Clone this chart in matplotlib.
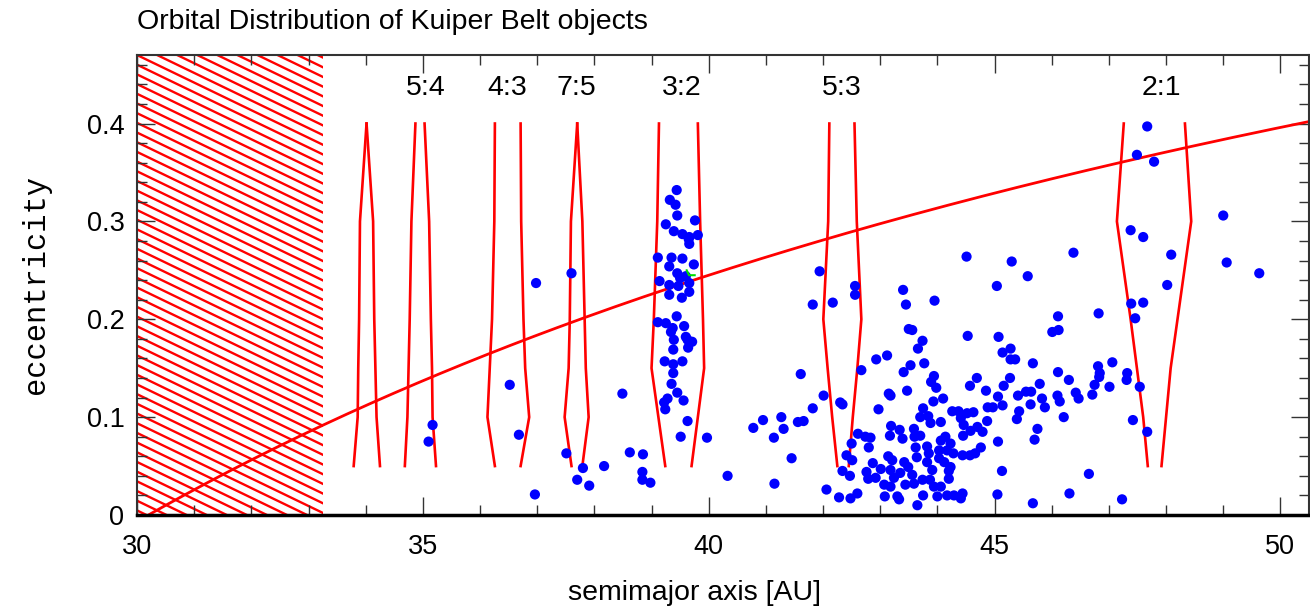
import numpy as np
import matplotlib.pyplot as plt
from matplotlib.patches import Rectangle
from matplotlib.ticker import MultipleLocator

# --- observed objects: semimajor axis [AU], eccentricity ---
a_inner = [35.17, 35.10, 36.98, 36.52, 36.68, 37.60, 37.51, 37.80, 37.70, 37.91,
           38.17, 36.96, 38.49, 38.62, 38.85, 38.84, 38.84, 38.98, 40.33, 40.78,
           40.95, 41.27, 41.31, 41.14, 41.56, 41.66, 41.45, 41.15, 41.61]
e_inner = [0.092, 0.075, 0.237, 0.133, 0.082, 0.247, 0.063, 0.048, 0.036, 0.030,
           0.050, 0.021, 0.124, 0.064, 0.062, 0.044, 0.036, 0.033, 0.040, 0.089,
           0.097, 0.100, 0.088, 0.079, 0.095, 0.096, 0.058, 0.032, 0.144]

# objects in the 3:2 resonance
a_plutinos = [39.44, 39.32, 39.42, 39.45, 39.76, 39.25, 39.39, 39.54, 39.66, 39.81,
              39.66, 39.11, 39.35, 39.54, 39.31, 39.74, 39.45, 39.60, 39.14, 39.31,
              39.47, 39.66, 39.31, 39.53, 39.66, 39.44, 39.11, 39.25, 39.37, 39.57,
              39.34, 39.60, 39.39, 39.63, 39.71, 39.38, 39.64, 39.23, 39.38, 39.54,
              39.38, 39.35, 39.45, 39.28, 39.56, 39.22, 39.24, 39.63, 39.51, 39.97,
              39.50, 39.65]
e_plutinos = [0.332, 0.322, 0.317, 0.306, 0.301, 0.297, 0.290, 0.287, 0.284, 0.286,
              0.277, 0.263, 0.263, 0.262, 0.254, 0.256, 0.247, 0.244, 0.239, 0.235,
              0.234, 0.237, 0.225, 0.222, 0.228, 0.203, 0.197, 0.196, 0.191, 0.193,
              0.187, 0.182, 0.179, 0.179, 0.177, 0.169, 0.171, 0.157, 0.154, 0.157,
              0.145, 0.134, 0.125, 0.119, 0.117, 0.115, 0.108, 0.096, 0.080, 0.079,
              0.242, 0.282]

# classical belt
a_classical = [44.51, 45.30, 45.58, 41.94, 45.04, 42.56, 42.56, 43.40, 43.45, 41.82,
               42.17, 43.95, 43.50, 43.56, 43.74, 43.66, 44.53, 45.07, 45.14, 45.28,
               45.28, 45.36, 45.67, 42.93, 43.12, 42.67, 43.53, 43.41, 43.77, 43.94,
               43.89, 43.98, 44.69, 44.57, 44.85, 45.27, 45.16, 43.47, 43.15, 43.18,
               42.01, 42.30, 42.34, 41.82, 42.97, 44.10, 43.93, 43.75, 43.70, 43.84,
               43.88, 44.06, 44.26, 44.37, 44.52, 44.63, 44.41, 44.46, 44.58, 44.70,
               44.79, 44.87, 44.88, 44.97, 45.06, 45.14, 45.41, 45.55, 45.64, 45.63,
               45.43, 45.39, 45.79, 45.75, 45.70, 45.06, 45.13, 45.05, 45.67, 42.61,
               42.74, 42.83, 42.80, 42.50, 42.41, 42.51, 42.34, 42.47, 42.06, 42.28,
               42.48, 42.60, 42.87, 42.76, 42.79, 42.92, 43.01, 43.14, 43.21, 43.18,
               43.07, 43.18, 43.08, 43.30, 43.33, 43.24, 43.35, 43.42, 43.49, 43.44,
               43.56, 43.19, 43.34, 43.39, 43.17, 43.59, 43.60, 43.70, 43.62, 43.64,
               43.82, 43.85, 44.03, 44.06, 44.14, 44.23, 44.17, 44.28, 44.44, 44.57,
               44.66, 44.76, 44.03, 44.12, 44.23, 44.20, 44.20, 43.82, 43.91, 43.87,
               43.74, 43.94, 44.06, 44.00, 44.17, 44.29, 44.44, 44.41, 43.75, 43.65,
               43.59, 44.45]
e_classical = [0.264, 0.259, 0.244, 0.249, 0.234, 0.234, 0.225, 0.230, 0.215, 0.215,
               0.217, 0.219, 0.190, 0.189, 0.178, 0.170, 0.183, 0.182, 0.166, 0.170,
               0.159, 0.159, 0.155, 0.159, 0.163, 0.148, 0.153, 0.146, 0.155, 0.142,
               0.136, 0.130, 0.140, 0.132, 0.127, 0.140, 0.132, 0.127, 0.124, 0.122,
               0.122, 0.115, 0.113, 0.109, 0.108, 0.119, 0.116, 0.109, 0.100, 0.101,
               0.094, 0.095, 0.106, 0.106, 0.104, 0.105, 0.099, 0.092, 0.086, 0.090,
               0.085, 0.096, 0.110, 0.110, 0.121, 0.112, 0.122, 0.126, 0.126, 0.113,
               0.106, 0.098, 0.134, 0.088, 0.077, 0.075, 0.045, 0.021, 0.012, 0.083,
               0.080, 0.079, 0.069, 0.073, 0.061, 0.056, 0.045, 0.040, 0.026, 0.018,
               0.017, 0.022, 0.053, 0.044, 0.037, 0.038, 0.047, 0.060, 0.056, 0.046,
               0.031, 0.029, 0.019, 0.019, 0.016, 0.038, 0.043, 0.054, 0.049, 0.031,
               0.041, 0.091, 0.087, 0.078, 0.081, 0.088, 0.080, 0.081, 0.069, 0.059,
               0.070, 0.063, 0.066, 0.076, 0.080, 0.073, 0.066, 0.063, 0.061, 0.061,
               0.063, 0.069, 0.058, 0.054, 0.049, 0.045, 0.037, 0.054, 0.046, 0.036,
               0.036, 0.029, 0.029, 0.019, 0.020, 0.020, 0.022, 0.017, 0.020, 0.010,
               0.032, 0.081]

# outer belt and the 2:1 region
a_outer = [46.38, 48.09, 49.06, 49.63, 48.02, 47.39, 47.60, 47.46, 46.82, 46.11,
           46.01, 46.12, 47.06, 46.81, 46.84, 46.83, 46.75, 47.01, 47.32, 47.31,
           47.54, 46.11, 46.30, 46.42, 46.47, 46.71, 46.10, 46.14, 45.83, 45.88,
           46.21, 46.65, 46.31, 47.23, 47.42, 47.67, 47.67, 47.49, 47.79, 47.38,
           47.60, 49.00]
e_outer = [0.268, 0.266, 0.258, 0.247, 0.235, 0.216, 0.217, 0.201, 0.206, 0.203,
           0.187, 0.189, 0.156, 0.152, 0.145, 0.141, 0.133, 0.131, 0.145, 0.138,
           0.131, 0.146, 0.138, 0.125, 0.119, 0.123, 0.122, 0.116, 0.119, 0.110,
           0.100, 0.042, 0.022, 0.016, 0.097, 0.085, 0.397, 0.368, 0.361, 0.291,
           0.284, 0.306]

pluto_a = [39.615, 39.656, 39.755]
pluto_e = [0.250, 0.245, 0.245]

# --- mean motion resonance libration widths ---
res_names = ['', '5:4', '4:3', '7:5', '3:2', '5:3', '2:1']
res_center = [34.02, 35.05, 36.48, 37.69, 39.52, 42.33, 47.91]
res_e = [0.05, 0.10, 0.15, 0.20, 0.30, 0.40]
res_left = [
    [33.79, 33.86, 33.87, 33.885, 33.90, 34.015],
    [34.685, 34.73, 34.75, 34.77, 34.80, 34.87],
    [36.26, 36.13, 36.17, 36.21, 36.25, 36.26],
    [37.60, 37.48, 37.55, 37.57, 37.59, 37.70],
    [39.24, 39.12, 39.00, 39.04, 39.10, 39.13],
    [42.25, 42.16, 42.08, 42.005, 42.09, 42.11],
    [47.68, 47.60, 47.49, 47.38, 47.14, 47.26],
]
res_right = [
    [34.25, 34.19, 34.17, 34.15, 34.13, 34.015],
    [35.23, 35.17, 35.16, 35.14, 35.11, 35.03],
    [36.71, 36.86, 36.79, 36.76, 36.72, 36.71],
    [37.79, 37.90, 37.85, 37.83, 37.79, 37.70],
    [39.70, 39.81, 39.92, 39.90, 39.85, 39.81],
    [42.45, 42.52, 42.60, 42.67, 42.59, 42.55],
    [47.92, 48.00, 48.08, 48.20, 48.44, 48.33],
]

q_neptune = 30.2     # perihelion of the Neptune-crossing limit
a_scatter_edge = 33.25  # edge of the unstable zone

W, H = 1310, 613
fig = plt.figure(figsize=(W / 100, H / 100), dpi=100)
ax = fig.add_axes([137 / W, 1 - 515 / H, (1309 - 137) / W, (515 - 55) / H])
ax.set_xlim(30, 50.5)
ax.set_ylim(0, 0.47)

# hatched unstable region
clip = Rectangle((30, 0), a_scatter_edge - 30, 0.47, fill=False, lw=0)
ax.add_patch(clip)
for c in np.arange(0.47 + 0.0099 * 12, -0.11, -0.0099):
    aa = np.array([30, a_scatter_edge])
    ln, = ax.plot(aa, c - 0.0282 * (aa - 30), color='red', lw=1.7, zorder=1)
    ln.set_clip_path(clip)

# q = const curve
a_curve = np.linspace(q_neptune, 50.5, 200)
ax.plot(a_curve, 1 - q_neptune / a_curve, color='red', lw=2, zorder=2)

for name, ac, left, right in zip(res_names, res_center, res_left, res_right):
    ax.plot(left, res_e, color='red', lw=1.9, zorder=2)
    ax.plot(right, res_e, color='red', lw=1.9, zorder=2)
    if name:
        ax.text(ac, 0.436, name, ha='center', va='center', fontsize=20.5,
                family='Liberation Sans')

for a, e in [(a_inner, e_inner), (a_plutinos, e_plutinos),
             (a_classical, e_classical), (a_outer, e_outer)]:
    ax.scatter(a, e, s=54, color='#0000ff', edgecolors='none', zorder=4)
ax.plot(pluto_a, pluto_e, color='#00dd00', lw=1.5, zorder=5)

ax.xaxis.set_major_locator(MultipleLocator(5))
ax.xaxis.set_minor_locator(MultipleLocator(1))
ax.yaxis.set_minor_locator(MultipleLocator(0.02))
ax.set_yticks([0, 0.1, 0.2, 0.3, 0.4])
ax.set_yticklabels(['0', '0.1', '0.2', '0.3', '0.4'])
ax.tick_params(which='both', direction='in', top=True, right=True, color='#333333')
ax.tick_params(which='major', length=13, width=1)
ax.tick_params(which='minor', length=7, width=1)
ax.tick_params(axis='x', pad=14, labelsize=19.5)
ax.tick_params(axis='y', pad=9, labelsize=19.5)
for lab in ax.get_xticklabels() + ax.get_yticklabels():
    lab.set_family('Liberation Sans')

for side in ['top', 'left', 'right']:
    ax.spines[side].set_linewidth(1.5)
    ax.spines[side].set_color('#333333')
ax.spines['bottom'].set_linewidth(2.5)

ax.set_xlabel('semimajor axis [AU]', fontsize=20.5, family='Liberation Sans')
ax.xaxis.set_label_coords(0.476, -0.142)
ax.set_ylabel('eccentricity', fontsize=22, family='Liberation Mono', labelpad=26)
fig.text(137 / W, 1 - 22 / H, 'Orbital Distribution of Kuiper Belt objects',
         ha='left', va='center', fontsize=20.5, family='Liberation Sans')

fig.savefig('out.png', dpi=100)
